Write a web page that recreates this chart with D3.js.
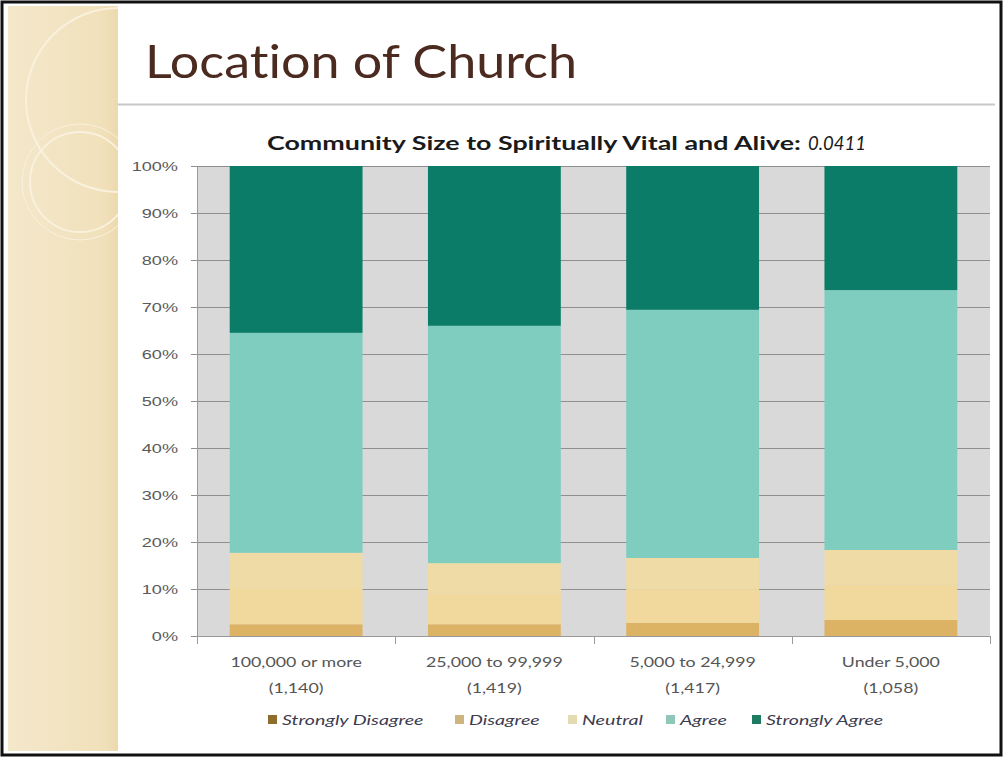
<!DOCTYPE html>
<html>
<head>
<meta charset="utf-8">
<script src="https://cdn.jsdelivr.net/npm/d3@7"></script>
<style>
	body { margin: 0; background: #fff; }
	svg { display: block; font-family: Lato, "Open Sans", sans-serif; font-variant-ligatures: none; }
</style>
</head>
<body>
<div id="chart"></div>
<script>
// community size groups, with respondent counts
var categories = ["100,000 or more", "25,000 to 99,999", "5,000 to 24,999", "Under 5,000"];
var counts = ["(1,140)", "(1,419)", "(1,417)", "(1,058)"];
var seriesNames = ["Strongly Disagree", "Disagree", "Neutral", "Agree", "Strongly Agree"];
// percent of each group
var stronglyDisagree = [2.5, 2.5, 2.8, 3.4];
var disagree = [7.5, 6.5, 7.0, 7.5];
var neutral = [7.7, 6.5, 6.8, 7.4];
var agree = [46.8, 50.5, 52.8, 55.3];
var stronglyAgree = [35.5, 34.0, 30.6, 26.4];
var yTicks = [0, 10, 20, 30, 40, 50, 60, 70, 80, 90, 100];

var barColors = ["#dcb264", "#f1d89d", "#eedba5", "#7fcdbe", "#0b7c67"];
var swatchColors = ["#8e6c2c", "#cdb67e", "#e3dcb2", "#8fc8b8", "#1f7a62"];

var W = 1003, H = 757;
var svg = d3.select("#chart").append("svg")
	.attr("width", W)
	.attr("height", H);

// the slide text is drawn a bit wider than the font, stretch it
function widen(sel, k) {
	sel.each(function() {
		var w = this.getComputedTextLength();
		d3.select(this)
			.attr("textLength", w * k)
			.attr("lengthAdjust", "spacingAndGlyphs");
	});
}

svg.append("rect")
	.attr("x", 0).attr("y", 0).attr("width", W).attr("height", H)
	.attr("fill", "#fff");

var defs = svg.append("defs");
var grad = defs.append("linearGradient")
	.attr("id", "strip")
	.attr("x1", 0).attr("x2", 1).attr("y1", 0).attr("y2", 0);
grad.append("stop").attr("offset", "0%").attr("stop-color", "#f4e8cb");
grad.append("stop").attr("offset", "85%").attr("stop-color", "#f1e1bb");
grad.append("stop").attr("offset", "100%").attr("stop-color", "#ecd9ae");
defs.append("clipPath").attr("id", "stripClip")
	.append("rect").attr("x", 8).attr("y", 6).attr("width", 110).attr("height", H - 12);

svg.append("rect")
	.attr("x", 8).attr("y", 6).attr("width", 110).attr("height", H - 12)
	.attr("fill", "url(#strip)");

// decorative rings on the strip
var rings = svg.append("g").attr("clip-path", "url(#stripClip)")
	.attr("fill", "none")
	.attr("stroke", "#f9f1de")
	.attr("stroke-width", 2);
rings.append("circle").attr("cx", 118).attr("cy", 100).attr("r", 92);
rings.append("circle").attr("cx", 80).attr("cy", 182).attr("r", 50);
rings.append("circle").attr("cx", 80).attr("cy", 182).attr("r", 58).attr("stroke-width", 1);

// chart area panel
svg.append("line")
	.attr("x1", 118).attr("x2", 995).attr("y1", 104.5).attr("y2", 104.5)
	.attr("stroke", "#c8c8c8").attr("stroke-width", 2);

svg.append("text")
	.attr("x", 145).attr("y", 78)
	.attr("font-size", 46)
	.attr("fill", "#4b2a20")
	.attr("textLength", 432)
	.attr("lengthAdjust", "spacingAndGlyphs")
	.text("Location of Church");

svg.append("text")
	.attr("x", 267).attr("y", 150)
	.attr("font-size", 19)
	.attr("font-weight", "bold")
	.attr("fill", "#1a1a1a")
	.attr("textLength", 534)
	.attr("lengthAdjust", "spacingAndGlyphs")
	.text("Community Size to Spiritually Vital and Alive:");
svg.append("text")
	.attr("x", 808).attr("y", 150)
	.attr("font-size", 19)
	.attr("font-style", "italic")
	.attr("fill", "#1a1a1a")
	.attr("textLength", 58)
	.attr("lengthAdjust", "spacingAndGlyphs")
	.text("0.0411");

var margin = {left: 197, right: 990, top: 166, bottom: 636};

var x = d3.scaleBand()
	.domain(categories)
	.range([margin.left, margin.right])
	.paddingInner(0.33)
	.paddingOuter(0.165);

var y = d3.scaleLinear()
	.domain([0, 100])
	.range([margin.bottom, margin.top]);

// plot background
svg.append("rect")
	.attr("x", margin.left).attr("y", margin.top)
	.attr("width", margin.right - margin.left)
	.attr("height", margin.bottom - margin.top)
	.attr("fill", "#d9d9d9");

// gridlines
svg.append("g")
	.selectAll("line")
	.data(yTicks.slice(1))
	.enter().append("line")
	.attr("x1", margin.left - 6).attr("x2", margin.right)
	.attr("y1", function(d) { return Math.round(y(d)) + 0.5; })
	.attr("y2", function(d) { return Math.round(y(d)) + 0.5; })
	.attr("stroke", "#8f8f8f").attr("stroke-width", 1);

// stacked bars
var rows = categories.map(function(c, i) {
	return {
		cat: c,
		"Strongly Disagree": stronglyDisagree[i],
		"Disagree": disagree[i],
		"Neutral": neutral[i],
		"Agree": agree[i],
		"Strongly Agree": stronglyAgree[i]
	};
});
var stacked = d3.stack().keys(seriesNames)(rows);

svg.append("g")
	.selectAll("g")
	.data(stacked)
	.enter().append("g")
	.attr("fill", function(d, i) { return barColors[i]; })
	.selectAll("rect")
	.data(function(d) { return d; })
	.enter().append("rect")
	.attr("x", function(d) { return x(d.data.cat); })
	.attr("width", x.bandwidth())
	.attr("y", function(d) { return y(d[1]); })
	.attr("height", function(d) { return y(d[0]) - y(d[1]); });

// y axis
var yAxis = svg.append("g")
	.attr("transform", "translate(" + margin.left + ",0)")
	.call(d3.axisLeft(y)
		.tickValues(yTicks)
		.tickSize(6)
		.tickPadding(13)
		.tickFormat(function(d) { return d + "%"; }));
yAxis.select(".domain").attr("stroke", "#9a9a9a");
yAxis.selectAll(".tick line").attr("stroke", "#8f8f8f");
yAxis.selectAll("text")
	.attr("font-size", 12.5)
	.attr("fill", "#5a5a5a");
widen(yAxis.selectAll("text"), 1.45);

// x axis with ticks at band edges
var xAxisG = svg.append("g");
xAxisG.append("line")
	.attr("x1", margin.left).attr("x2", margin.right)
	.attr("y1", margin.bottom + 0.5).attr("y2", margin.bottom + 0.5)
	.attr("stroke", "#9a9a9a");
var edges = d3.range(categories.length + 1).map(function(i) {
	return margin.left + i * x.step();
});
xAxisG.selectAll("line.edge")
	.data(edges)
	.enter().append("line")
	.attr("class", "edge")
	.attr("x1", function(d) { return Math.round(d) + 0.5; })
	.attr("x2", function(d) { return Math.round(d) + 0.5; })
	.attr("y1", margin.bottom).attr("y2", margin.bottom + 8)
	.attr("stroke", "#9a9a9a");

var labels = xAxisG.selectAll("text.cat")
	.data(categories)
	.enter().append("text")
	.attr("class", "cat")
	.attr("text-anchor", "middle")
	.attr("font-size", 14)
	.attr("fill", "#555");
labels.append("tspan")
	.attr("x", function(d) { return x(d) + x.bandwidth() / 2; })
	.attr("y", 667)
	.text(function(d) { return d; });
labels.append("tspan")
	.attr("x", function(d) { return x(d) + x.bandwidth() / 2; })
	.attr("y", 693)
	.text(function(d, i) { return counts[i]; });
widen(labels.selectAll("tspan"), 1.27);

// legend
var legendX = [268, 455, 568, 666, 752];
var legend = svg.append("g")
	.selectAll("g")
	.data(seriesNames)
	.enter().append("g")
	.attr("transform", function(d, i) { return "translate(" + legendX[i] + ",720)"; });
legend.append("rect")
	.attr("x", 0).attr("y", -5)
	.attr("width", 9).attr("height", 9)
	.attr("fill", function(d, i) { return swatchColors[i]; });
var legendText = legend.append("text")
	.attr("x", 14).attr("y", 5)
	.attr("font-size", 14)
	.attr("font-style", "italic")
	.attr("fill", "#3c3c50")
	.text(function(d) { return d; });
widen(legendText, 1.4);

// outer black frame
svg.append("rect")
	.attr("x", 2).attr("y", 2).attr("width", W - 4).attr("height", H - 4)
	.attr("fill", "none")
	.attr("stroke", "#111")
	.attr("stroke-width", 3);
</script>
</body>
</html>
